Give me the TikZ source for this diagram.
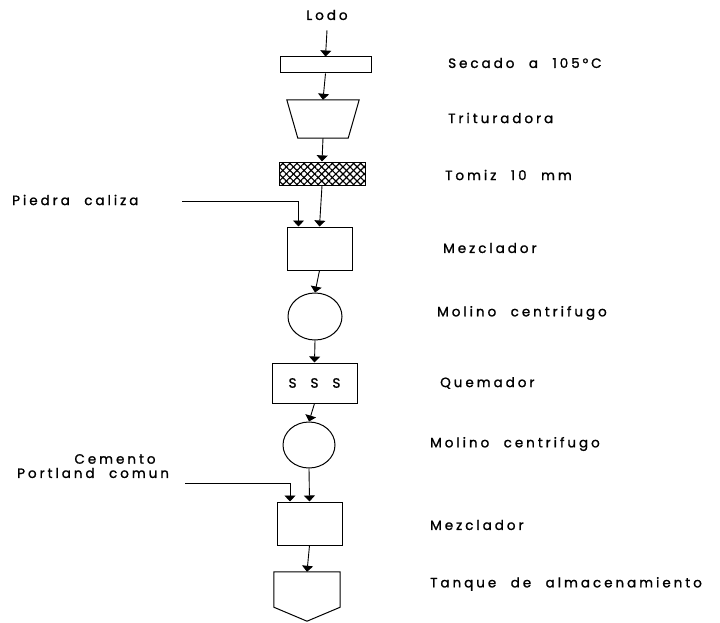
\documentclass[tikz,border=0pt]{standalone}
\usepackage{fontspec}
\newfontfamily\stepfont{Poppins}[LetterSpace=22, WordSpace=2.2, FakeBold=1.3]
\usetikzlibrary{%
        arrows.meta,
        patterns.meta,
        shapes.geometric
    }
\tikzset{%
    unit/.style={draw, line width=1pt, inner sep=0pt},
    flow/.style={-{Triangle[width=11pt, length=6pt]}, line width=0.9pt},
    steptext/.style={anchor=west, inner sep=0pt, font=\stepfont\fontsize{13.5}{15}\selectfont},
    sieve/.style={%
        pattern={Lines[angle=45, distance=5pt, line width=1.2pt]},
        postaction={pattern={Lines[angle=-45, distance=5pt, line width=1.2pt]}}
    }
}

\begin{document}
\begin{tikzpicture}[x=1pt, y=-1pt]

    \useasboundingbox (0, 0) rectangle (720, 623);

    % Main line
    \node[steptext, anchor=center] (lodo) at (327, 15) {Lodo};

    \node[unit, minimum width=91pt, minimum height=16pt] (secado) at (325.5, 65) {};

    \node[inner sep=0pt, minimum width=72pt, minimum height=38pt] (trit) at (323, 119) {};
    \draw[line width=1pt]
        (trit.north west) -- (trit.north east)
        -- ([xshift=-11pt] trit.south east)
        -- ([xshift=11pt] trit.south west) -- cycle;

    \node[unit, sieve, minimum width=86pt, minimum height=23pt] (tamiz) at (322, 173.5) {};

    \node[unit, minimum width=65pt, minimum height=43pt] (mix1) at (319.5, 248.5) {};

    \node[unit, ellipse, minimum width=54pt, minimum height=47pt] (mol1) at (315, 316.5) {};

    \node[unit, minimum width=85pt, minimum height=40pt,
          font=\stepfont\fontsize{13.5}{15}\selectfont] (quem) at (314.5, 383)
        {S\hspace{14pt}S\hspace{14pt}S};

    \node[unit, ellipse, minimum width=52pt, minimum height=46pt] (mol2) at (309, 445) {};

    \node[unit, minimum width=65pt, minimum height=43pt] (mix2) at (309.5, 523.5) {};

    \node[inner sep=0pt, minimum width=66pt, minimum height=49pt] (tank) at (307, 596.5) {};
    \draw[line width=1pt]
        (tank.north west) -- (tank.north east)
        -- ([yshift=14pt] tank.south east)
        -- (tank.south)
        -- ([yshift=14pt] tank.south west) -- cycle;

    % Flow
    \draw[flow] ([yshift=-10pt] lodo.south) -- (secado.north);
    \draw[flow] (secado.south) -- (trit.north);
    \draw[flow] (trit.south) -- (tamiz.north);
    \draw[flow] (tamiz.south) -- (mix1.north);
    \draw[flow] (mix1.south) -- (mol1.north);
    \draw[flow] (mol1.south) -- (quem.north);
    \draw[flow] (quem.south) -- (mol2.north);
    \draw[flow] (mol2.south) -- (mix2.north);
    \draw[flow] (mix2.south) -- (tank.north);

    % Feeds
    \node[steptext] (caliza) at (12, 200) {Piedra caliza};
    \coordinate (caliza-in) at (182, 201);
    \draw[flow] (caliza-in) -| ([xshift=-21pt] mix1.north);

    \node[steptext, anchor=center] (cemento) at (115, 459) {Cemento};
    \node[steptext] (portland) at (17, 473) {Portland comun};
    \coordinate (cemento-in) at (185, 483);
    \draw[flow] (cemento-in) -| ([xshift=-19.5pt] mix2.north);

    % Step names
    \node[steptext] (t-secado) at (448, 63) {Secado a 105°C};
    \node[steptext] (t-trit) at (448, 118) {Trituradora};
    \node[steptext] (t-tamiz) at (445, 175) {Tomiz 10 mm};
    \node[steptext] (t-mix1) at (443, 248) {Mezclador};
    \node[steptext] (t-mol1) at (437, 313) {Molino centrifugo};
    \node[steptext] (t-quem) at (440, 383) {Quemador};
    \node[steptext] (t-mol2) at (430, 444) {Molino centrifugo};
    \node[steptext] (t-mix2) at (430, 525) {Mezclador};
    \node[steptext] (t-tank) at (430, 584) {Tanque de almacenamiento};

\end{tikzpicture}
\end{document}
